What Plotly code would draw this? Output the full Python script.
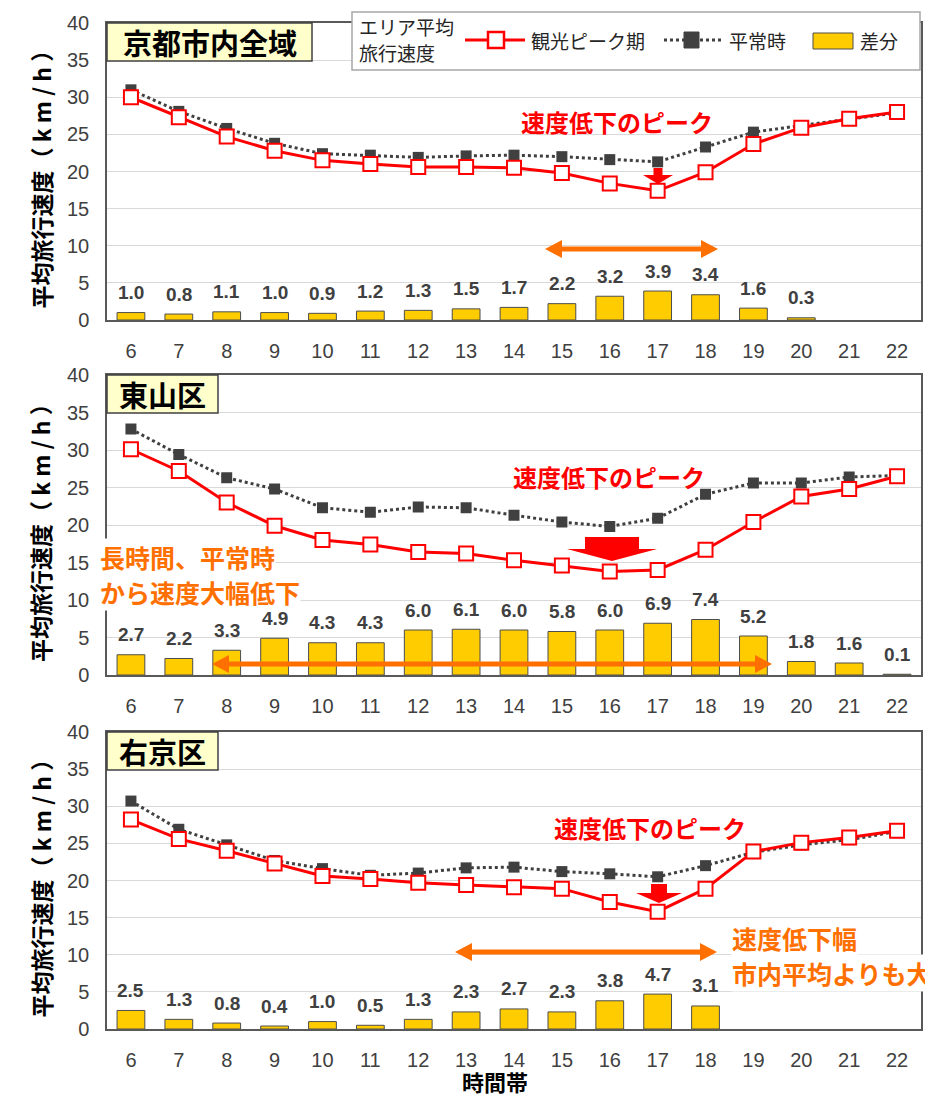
import plotly.graph_objects as go

# ---------------- data ----------------
hours = [str(h) for h in range(6, 23)]
panel_names = ["京都市内全域", "東山区", "右京区"]

city_peak = [30.0, 27.3, 24.7, 22.8, 21.5, 21.0, 20.6, 20.6, 20.5, 19.8, 18.4, 17.4, 19.9, 23.7, 25.9, 27.1, 28.0]
city_normal = [31.0, 28.1, 25.8, 23.8, 22.4, 22.2, 21.9, 22.1, 22.2, 22.0, 21.6, 21.3, 23.3, 25.3, 26.2, 27.0, 27.9]
city_diff = [1.0, 0.8, 1.1, 1.0, 0.9, 1.2, 1.3, 1.5, 1.7, 2.2, 3.2, 3.9, 3.4, 1.6, 0.3, None, None]

hig_peak = [30.1, 27.2, 23.0, 19.9, 18.0, 17.4, 16.4, 16.2, 15.3, 14.6, 13.8, 14.0, 16.7, 20.4, 23.8, 24.8, 26.5]
hig_normal = [32.8, 29.4, 26.3, 24.8, 22.3, 21.7, 22.4, 22.3, 21.3, 20.4, 19.8, 20.9, 24.1, 25.6, 25.6, 26.4, 26.6]
hig_diff = [2.7, 2.2, 3.3, 4.9, 4.3, 4.3, 6.0, 6.1, 6.0, 5.8, 6.0, 6.9, 7.4, 5.2, 1.8, 1.6, 0.1]

uk_peak = [28.2, 25.6, 24.0, 22.3, 20.6, 20.2, 19.7, 19.4, 19.1, 18.9, 17.1, 15.8, 18.9, 23.9, 25.1, 25.8, 26.7]
uk_normal = [30.7, 26.9, 24.8, 22.7, 21.6, 20.7, 21.0, 21.7, 21.8, 21.2, 20.9, 20.5, 22.0, 23.8, 24.8, 25.5, 26.6]
uk_diff = [2.5, 1.3, 0.8, 0.4, 1.0, 0.5, 1.3, 2.3, 2.7, 2.3, 3.8, 4.7, 3.1, None, None, None, None]

series = [(city_peak, city_normal, city_diff),
          (hig_peak, hig_normal, hig_diff),
          (uk_peak, uk_normal, uk_diff)]

y_title = "平均旅行速度（ k m / h ）"
x_title = "時間帯"
legend_title = ["エリア平均", "旅行速度"]
legend_names = ["観光ピーク期", "平常時", "差分"]

# ---------------- layout helpers ----------------
OFF = 8                      # page body margin
W, H = 933 - OFF, 1097 - OFF
def X(p): return (p - OFF) / W
def Y(p): return 1 - (p - OFF) / H

PLOT_L, PLOT_R = 107, 921
panels_px = [(23, 320), (375, 675), (732, 1029)]  # (y of 40, y of 0)
title_box_right = [312, 218, 218]

RED = "#FF0000"
DARK = "#404040"
YELLOW = "#FFCC00"
ORANGE = "#FF7000"
NUM_FONT = "Liberation Sans, Arial, Noto Sans CJK JP"
JP_FONT = "Noto Sans CJK JP, Liberation Sans"

fig = go.Figure()
layout = dict(width=W, height=H, margin=dict(l=0, r=0, t=0, b=0, pad=0),
              paper_bgcolor="white", plot_bgcolor="white", showlegend=False,
              font=dict(family=NUM_FONT, color=DARK))
annotations = []
shapes = []

def note(x, y, text, font, xanchor="center", **kw):
    d = dict(x=X(x), y=Y(y), xref="paper", yref="paper", showarrow=False, text=text,
             font=font, xanchor=xanchor, yanchor="middle")
    d.update(kw)
    annotations.append(d)

for k, ((peak, normal, diff), (ytop, ybot)) in enumerate(zip(series, panels_px)):
    n = "" if k == 0 else str(k + 1)
    xa, ya = "x" + n, "y" + n
    fig.add_trace(go.Bar(x=hours, y=diff, xaxis=xa, yaxis=ya, width=0.58,
                         marker=dict(color=YELLOW, line=dict(color="#4D4D4D", width=1))))
    fig.add_trace(go.Scatter(x=hours, y=normal, xaxis=xa, yaxis=ya, mode="lines+markers",
                             line=dict(color=DARK, width=3, dash="dot"),
                             marker=dict(symbol="square", size=11, color=DARK)))
    fig.add_trace(go.Scatter(x=hours, y=peak, xaxis=xa, yaxis=ya, mode="lines+markers",
                             line=dict(color=RED, width=3),
                             marker=dict(symbol="square", size=14, color="white",
                                         line=dict(color=RED, width=2))))
    layout["xaxis" + n] = dict(domain=[X(PLOT_L), X(PLOT_R)], anchor=ya, type="category",
                               range=[-0.5, 16.5], showgrid=False, showline=True, mirror=True,
                               linecolor="#595959", linewidth=1.5, ticks="",
                               ticklabelstandoff=12, automargin=False,
                               tickfont=dict(size=20, color=DARK, family=NUM_FONT))
    layout["yaxis" + n] = dict(domain=[Y(ybot), Y(ytop)], anchor=xa, range=[0, 40],
                               dtick=5, showgrid=True, gridcolor="#D9D9D9", gridwidth=1,
                               zeroline=False, showline=True, mirror=True,
                               linecolor="#595959", linewidth=1.5, ticks="",
                               ticklabelstandoff=12, automargin=False,
                               tickfont=dict(size=20, color=DARK, family=NUM_FONT))
    # bar value labels (x given as category index)
    for i, d in enumerate(diff):
        if d is None:
            continue
        annotations.append(dict(x=i, y=d, xref=xa, yref=ya, yshift=20, showarrow=False,
                                xanchor="center", yanchor="middle", text=f"{d:.1f}",
                                font=dict(size=19, color=DARK, family=NUM_FONT, weight="bold")))
    # y axis title
    note(40, (ytop + ybot) / 2 + 2, y_title,
         dict(size=23, color="black", family=JP_FONT, weight="bold"), textangle=-90)
    # panel title box
    shapes.append(dict(type="rect", xref="paper", yref="paper",
                       x0=X(PLOT_L), x1=X(title_box_right[k]), y0=Y(ytop + 38), y1=Y(ytop),
                       fillcolor="#FFFFCC", line=dict(color=DARK, width=1.5)))
    note((PLOT_L + title_box_right[k]) / 2, ytop + 19, panel_names[k],
         dict(size=29, color="black", family=JP_FONT, weight="bold"))

# x-axis title
note(495, 1081, x_title, dict(size=22, color="black", family=JP_FONT, weight="bold"))

# ---------------- decorations ----------------
def poly(pts):
    return "M " + " L ".join(f"{X(a):.5f},{Y(b):.5f}" for a, b in pts) + " Z"

def double_arrow(x0, x1, yc, hl=17, hh=9, st=2.5):
    return poly([(x0, yc), (x0 + hl, yc - hh), (x0 + hl, yc - st), (x1 - hl, yc - st),
                 (x1 - hl, yc - hh), (x1, yc), (x1 - hl, yc + hh), (x1 - hl, yc + st),
                 (x0 + hl, yc + st), (x0 + hl, yc + hh)])

def down_arrow(cx, ytop, sw, ys, hw, yt):
    return poly([(cx - sw, ytop), (cx + sw, ytop), (cx + sw, ys), (cx + hw, ys), (cx, yt),
                 (cx - hw, ys), (cx - sw, ys)])

for path in [double_arrow(545, 718, 249), double_arrow(212, 772, 664), double_arrow(455, 717, 952)]:
    shapes.append(dict(type="path", xref="paper", yref="paper", path=path,
                       fillcolor=ORANGE, line=dict(width=0)))
for path in [down_arrow(658, 168, 4.5, 175, 15, 184), down_arrow(612, 537, 27, 549, 45, 561),
             down_arrow(659, 884, 8, 893, 23, 903)]:
    shapes.append(dict(type="path", xref="paper", yref="paper", path=path,
                       fillcolor=RED, line=dict(width=0)))

peak_font = dict(size=24, color=RED, family=JP_FONT, weight="bold")
for cx, cy in [(617, 122), (609, 477), (650, 827)]:
    note(cx, cy, "速度低下のピーク", peak_font)

or_font = dict(size=25, color=ORANGE, family=JP_FONT, weight="bold")
for tx, ty, t in [(99, 557, "長時間、平常時"), (99, 592, "から速度大幅低下"),
                  (731, 938, "速度低下幅"), (731, 973, "市内平均よりも大")]:
    note(tx, ty, t, or_font, xanchor="left", bgcolor="white", borderpad=0)

# ---------------- legend (drawn) ----------------
shapes.append(dict(type="rect", xref="paper", yref="paper", x0=X(352), x1=X(920),
                   y0=Y(70), y1=Y(12), fillcolor="white", line=dict(color="#A6A6A6", width=1.5)))
shapes.append(dict(type="line", xref="paper", yref="paper", x0=X(465), x1=X(525),
                   y0=Y(40), y1=Y(40), line=dict(color=RED, width=3)))
shapes.append(dict(type="rect", xref="paper", yref="paper", x0=X(488), x1=X(504),
                   y0=Y(48), y1=Y(32), fillcolor="white", line=dict(color=RED, width=2.5)))
shapes.append(dict(type="line", xref="paper", yref="paper", x0=X(664), x1=X(722),
                   y0=Y(40), y1=Y(40), line=dict(color=DARK, width=3, dash="dot")))
shapes.append(dict(type="rect", xref="paper", yref="paper", x0=X(684), x1=X(699),
                   y0=Y(48), y1=Y(32), fillcolor=DARK, line=dict(color=DARK, width=1)))
shapes.append(dict(type="rect", xref="paper", yref="paper", x0=X(813), x1=X(853),
                   y0=Y(49), y1=Y(33), fillcolor=YELLOW, line=dict(color="#4D4D4D", width=1)))
leg_font = dict(size=19, color="#262626", family=JP_FONT)
for tx, ty, t in [(357, 27, legend_title[0]), (357, 53, legend_title[1]),
                  (529, 40, legend_names[0]), (727, 40, legend_names[1]), (858, 40, legend_names[2])]:
    note(tx, ty, t, leg_font, xanchor="left")

layout["annotations"] = annotations
layout["shapes"] = shapes
fig.update_layout(**layout)
fig.write_html("out.html")
